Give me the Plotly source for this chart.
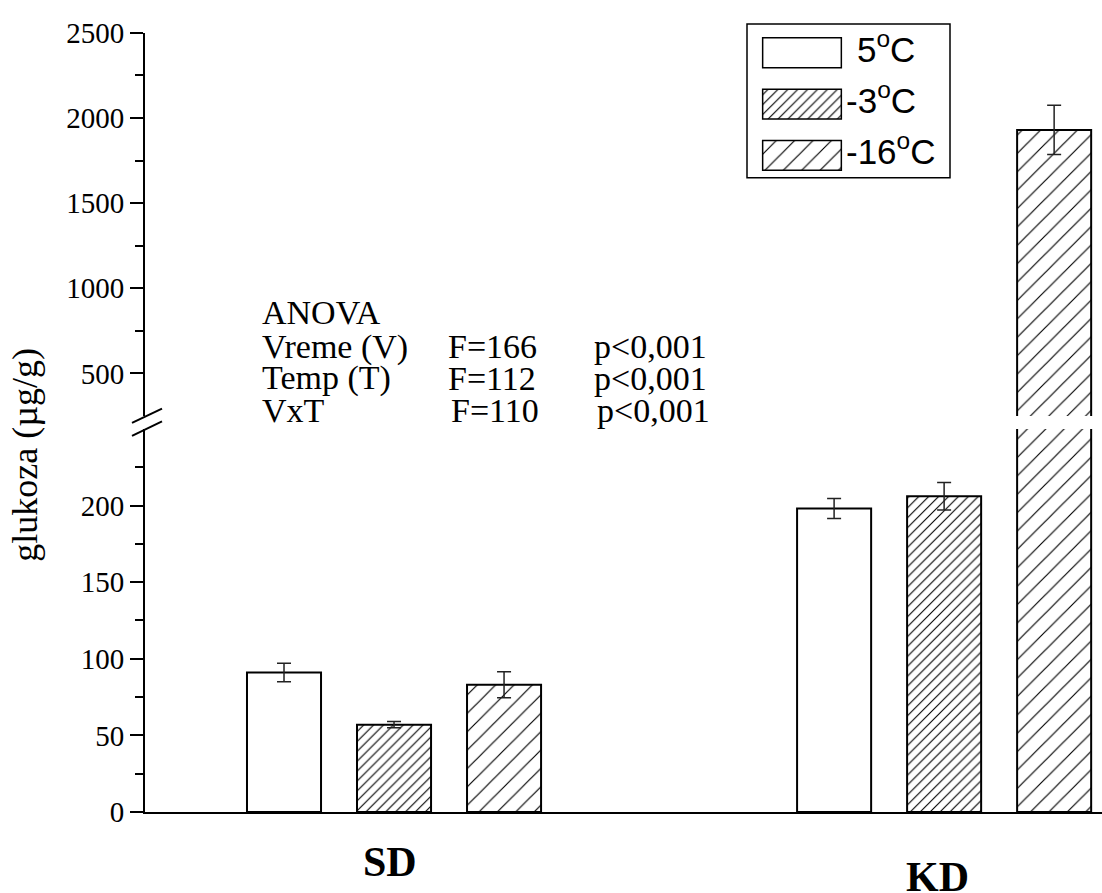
import plotly.graph_objects as go

# ---- data ----
groups = ["SD", "KD"]
series = ["5°C", "-3°C", "-16°C"]
series_labels = ["5<sup>o</sup>C", "-3<sup>o</sup>C", "-16<sup>o</sup>C"]
val_5 = [91, 198]
val_m3 = [57, 206]
val_m16 = [83, 1930]
err_5 = [6, 6.5]
err_m3 = [2, 9]
err_m16 = [8.5, 145]
values = [val_5, val_m3, val_m16]
errors = [err_5, err_m3, err_m16]

lower_ticks = [0, 50, 100, 150, 200]
lower_minor = [25, 75, 125, 175, 225]
upper_ticks = [500, 1000, 1500, 2000, 2500]
upper_minor = [750, 1250, 1750, 2250]
BREAK = 250

anova_rows = [
    ("ANOVA", "", ""),
    ("Vreme (V)", "F=166", "p<0,001"),
    ("Temp (T)", "F=112", "p<0,001"),
    ("VxT", "F=110", "p<0,001"),
]

# ---- layout helpers (pixel -> paper) ----
W, H = 1102, 893
L, R, T, B = 145, 0, 10, 81
PW, PH = W - L - R, H - T - B
def px(x):
    return (x - L) / PW
def py(y):
    return (H - B - y) / PH

styles = [
    dict(shape="", size=8, solidity=0.1),
    dict(shape="/", size=7, solidity=0.16),
    dict(shape="/", size=13, solidity=0.09),
]

SERIF = "Liberation Serif, Times New Roman, serif"
SANS = "Liberation Sans, Arial, sans-serif"

fig = go.Figure()

for i, (name, vals, errs, st) in enumerate(zip(series, values, errors, styles)):
    e_low = [e if v <= BREAK else 0 for v, e in zip(vals, errs)]
    e_up = [e if v > BREAK else 0 for v, e in zip(vals, errs)]
    for ax, e in (("y", e_low), ("y2", e_up)):
        fig.add_trace(go.Bar(
            x=groups, y=vals, name=name, xaxis="x", yaxis=ax,
            offsetgroup=str(i), showlegend=False,
            marker=dict(color="white", line=dict(color="black", width=2),
                        pattern=dict(shape=st["shape"], size=st["size"],
                                     solidity=st["solidity"], fgcolor="black",
                                     bgcolor="white", fillmode="replace")),
            error_y=dict(type="data", array=e, visible=True, color="#222",
                         thickness=1.5, width=7),
        ))

# legend as inset horizontal bars
for i, (name, st) in enumerate(zip(series, styles)):
    fig.add_trace(go.Bar(
        x=[1], y=[name], orientation="h", xaxis="x3", yaxis="y3",
        showlegend=False, width=0.58, hoverinfo="skip",
        marker=dict(color="white", line=dict(color="black", width=1.5),
                    pattern=dict(shape=st["shape"], size=st["size"],
                                 solidity=st["solidity"], fgcolor="black",
                                 bgcolor="white", fillmode="replace")),
    ))

axis_common = dict(showline=True, linecolor="black", linewidth=2, ticks="outside",
                   ticklen=13, tickwidth=2, tickcolor="black", showgrid=False,
                   zeroline=False, tickfont=dict(family=SERIF, size=29, color="black"))

fig.update_layout(
    width=W, height=H, margin=dict(l=L, r=R, t=T, b=B),
    paper_bgcolor="white", plot_bgcolor="rgba(0,0,0,0)",
    barmode="group", bargap=0.4, bargroupgap=0.327,
    showlegend=False,
    xaxis=dict(range=[-0.4527, 1.287], showline=True, linecolor="black", linewidth=2,
               showticklabels=False, ticks="", showgrid=False, zeroline=False,
               anchor="y"),
    yaxis=dict(domain=[0, py(426)], range=[0, BREAK], tickvals=lower_ticks,
               minor=dict(tickvals=lower_minor, ticks="outside", ticklen=8,
                          tickwidth=2, tickcolor="black"),
               anchor="x", **axis_common),
    yaxis2=dict(domain=[py(413), py(27)], range=[BREAK, 2500], tickvals=upper_ticks,
                minor=dict(tickvals=upper_minor, ticks="outside", ticklen=8,
                           tickwidth=2, tickcolor="black"),
                anchor="x", **axis_common),
    xaxis3=dict(domain=[px(763) - 0.002, px(841) + 0.002], range=[-0.02, 1.02],
                visible=False, anchor="y3", fixedrange=True),
    yaxis3=dict(domain=[py(176.35), py(21.15)], range=[2.5, -0.5], visible=False,
                categoryorder="array", categoryarray=series, anchor="x3",
                fixedrange=True),
)

# legend frame & labels
fig.add_shape(type="rect", xref="paper", yref="paper",
              x0=px(747), x1=px(950), y0=py(173), y1=py(18),
              line=dict(color="black", width=1.5), fillcolor="rgba(0,0,0,0)",
              layer="below")
leg_x = [855, 844, 844]
leg_y = [41, 93, 144]
for lab, lx, ly in zip(series_labels, leg_x, leg_y):
    fig.add_annotation(text=lab, xref="paper", yref="paper", x=px(lx), y=py(ly),
                       xanchor="left", yanchor="middle", showarrow=False,
                       font=dict(family=SANS, size=35, color="black"))

# axis break marks
for y0 in (420, 433):
    fig.add_shape(type="line", xref="paper", yref="paper",
                  x0=px(132), y0=py(y0), x1=px(162), y1=py(y0 - 14.5),
                  line=dict(color="black", width=2))

# ANOVA text
col_x = [260, 446, 592]
row_y = [309, 343, 375, 407]
for (a, b, c), ry in zip(anova_rows, row_y):
    for txt, cx in zip((a, b, c), col_x):
        if txt:
            fig.add_annotation(text=txt, xref="paper", yref="paper",
                               x=px(cx + (3 if ry == row_y[-1] and cx != col_x[0] else 0)),
                               y=py(ry), xanchor="left", yanchor="middle",
                               showarrow=False,
                               font=dict(family=SERIF, size=34, color="black"))

# y title
fig.add_annotation(text="glukoza (µg/g)", xref="paper", yref="paper",
                   x=px(25), y=py(452), textangle=-90, xanchor="center",
                   yanchor="middle", showarrow=False,
                   font=dict(family=SERIF, size=36, color="black"))

# category labels
for g, gx, gy in zip(groups, [390, 937], [862, 877]):
    fig.add_annotation(text="<b>%s</b>" % g, xref="paper", yref="paper",
                       x=px(gx), y=py(gy), xanchor="center", yanchor="middle",
                       showarrow=False,
                       font=dict(family=SERIF, size=42, color="black"))

fig.write_html("out.html")
